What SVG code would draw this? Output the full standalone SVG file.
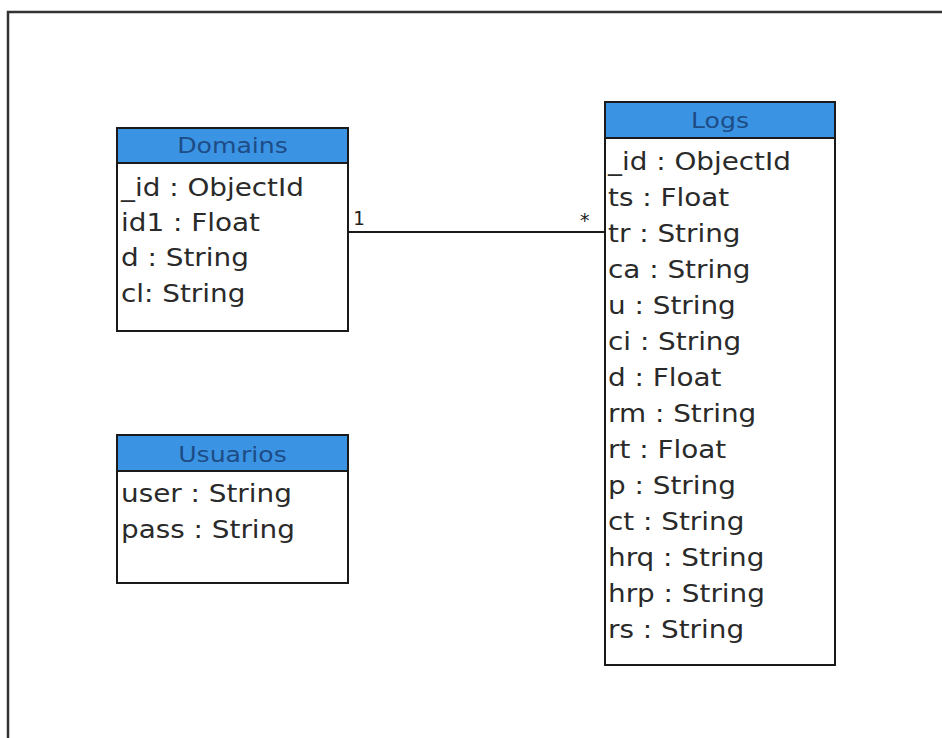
<svg xmlns="http://www.w3.org/2000/svg" width="942" height="738" viewBox="0 0 942 738">
  <style>
    .box { fill: #ffffff; stroke: #1a1a1a; stroke-width: 2; }
    .head { fill: #3b94e3; stroke: #1a1a1a; stroke-width: 2; }
    .title { font-family: "DejaVu Sans", sans-serif; font-size: 22px; fill: #1d4c86; text-anchor: middle; }
    .attr { font-family: "DejaVu Sans", sans-serif; font-size: 24px; fill: #2a2a2a; }
    .mult { font-family: "DejaVu Sans Mono", monospace; font-size: 19px; fill: #222222; }
    .edge { stroke: #1a1a1a; stroke-width: 2; fill: none; }
    .frame { stroke: #333333; stroke-width: 2.5; fill: none; }
  </style>

  <rect width="942" height="738" fill="#ffffff"/>
  <!-- page frame -->
  <polyline class="frame" points="8,738 8,12 942,12"/>

  <!-- connectors -->
  <g id="connectors">
    <line class="edge" x1="348" y1="232" x2="605" y2="232"/>
    <text class="mult" x="353" y="225">1</text>
    <text class="mult" x="579" y="227">*</text>
  </g>

  <!-- Domains class -->
  <g id="domains">
    <rect class="box" x="117" y="128" width="231" height="203"/>
    <rect class="head" x="117" y="128" width="231" height="35"/>
    <g transform="translate(232.5,0) scale(1.145,1)">
      <text class="title" x="0" y="153">Domains</text>
    </g>
    <g transform="translate(121,0) scale(1.16,1)">
      <text class="attr" x="0" y="196">_id : ObjectId</text>
      <text class="attr" x="0" y="231">id1 : Float</text>
      <text class="attr" x="0" y="266">d : String</text>
      <text class="attr" x="0" y="302">cl: String</text>
    </g>
  </g>

  <!-- Usuarios class -->
  <g id="usuarios">
    <rect class="box" x="117" y="435" width="231" height="148"/>
    <rect class="head" x="117" y="435" width="231" height="36"/>
    <g transform="translate(232.5,0) scale(1.145,1)">
      <text class="title" x="0" y="462">Usuarios</text>
    </g>
    <g transform="translate(121,0) scale(1.16,1)">
      <text class="attr" x="0" y="502">user : String</text>
      <text class="attr" x="0" y="538">pass : String</text>
    </g>
  </g>

  <!-- Logs class -->
  <g id="logs">
    <rect class="box" x="605" y="102" width="230" height="563"/>
    <rect class="head" x="605" y="102" width="230" height="36"/>
    <g transform="translate(720,0) scale(1.145,1)">
      <text class="title" x="0" y="128">Logs</text>
    </g>
    <g transform="translate(608,0) scale(1.16,1)">
      <text class="attr" x="0" y="170">_id : ObjectId</text>
      <text class="attr" x="0" y="206">ts : Float</text>
      <text class="attr" x="0" y="242">tr : String</text>
      <text class="attr" x="0" y="278">ca : String</text>
      <text class="attr" x="0" y="314">u : String</text>
      <text class="attr" x="0" y="350">ci : String</text>
      <text class="attr" x="0" y="386">d : Float</text>
      <text class="attr" x="0" y="422">rm : String</text>
      <text class="attr" x="0" y="458">rt : Float</text>
      <text class="attr" x="0" y="494">p : String</text>
      <text class="attr" x="0" y="530">ct : String</text>
      <text class="attr" x="0" y="566">hrq : String</text>
      <text class="attr" x="0" y="602">hrp : String</text>
      <text class="attr" x="0" y="638">rs : String</text>
    </g>
  </g>
</svg>
